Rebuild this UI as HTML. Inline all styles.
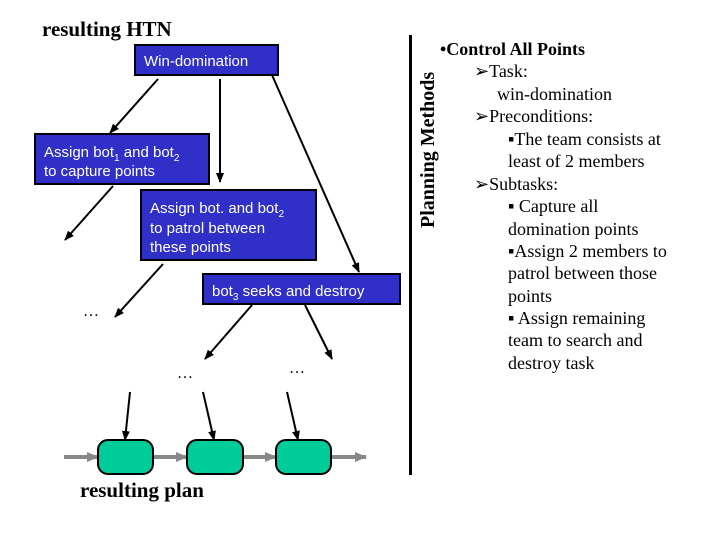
<!DOCTYPE html>
<html><head><meta charset="utf-8"><style>
html,body{margin:0;padding:0;background:#fff;width:720px;height:540px;overflow:hidden}
svg text{font-family:"Liberation Serif",serif}
.b{font-family:"Liberation Sans",sans-serif;fill:#fff;font-size:15px}
.r{font-size:18px;fill:#000}
</style></head><body>
<svg width="720" height="540" viewBox="0 0 720 540" xmlns="http://www.w3.org/2000/svg">
<defs>
<marker id="a" markerWidth="10" markerHeight="10" refX="9" refY="5" orient="auto" markerUnits="userSpaceOnUse"><path d="M0,1 L10,5 L0,9 Z" fill="#000"/></marker>
<marker id="g" markerWidth="12" markerHeight="12" refX="11" refY="6" orient="auto" markerUnits="userSpaceOnUse"><path d="M0,1 L12,6 L0,11 Z" fill="#888"/></marker>
</defs>
<text x="42" y="36" font-size="21" font-weight="bold">resulting HTN</text>
<g stroke="#000" stroke-width="2" fill="none" marker-end="url(#a)">
<line x1="158" y1="79" x2="110" y2="133"/>
<line x1="220" y1="79" x2="220" y2="182"/>
<line x1="272" y1="75" x2="359" y2="272"/>
<line x1="113" y1="186" x2="65" y2="240"/>
<line x1="163" y1="264" x2="115" y2="317"/>
<line x1="252" y1="305" x2="205" y2="359"/>
<line x1="305" y1="305" x2="332" y2="359"/>
<line x1="130" y1="392" x2="125" y2="440"/>
<line x1="203" y1="392" x2="214" y2="440"/>
<line x1="287" y1="392" x2="298" y2="440"/>
</g>
<g fill="#3030c8" stroke="#000" stroke-width="2">
<rect x="135" y="45" width="143" height="30"/>
<rect x="35" y="134" width="174" height="50"/>
<rect x="141" y="190" width="175" height="70"/>
<rect x="203" y="274" width="197" height="30"/>
</g>
<text class="b" x="144" y="66">Win-domination</text>
<text class="b" x="44" y="157">Assign bot<tspan font-size="10" dy="4">1</tspan><tspan dy="-4"> and bot</tspan><tspan font-size="10" dy="4">2</tspan></text>
<text class="b" x="44" y="176">to capture points</text>
<text class="b" x="150" y="213">Assign bot. and bot<tspan font-size="10" dy="4">2</tspan></text>
<text class="b" x="150" y="233">to patrol between</text>
<text class="b" x="150" y="252">these points</text>
<text class="b" x="212" y="296">bot<tspan font-size="10" dy="4">3</tspan><tspan dy="-4"> seeks and destroy</tspan></text>
<g font-size="16" fill="#000"><text x="83" y="316">…</text><text x="177" y="378">…</text><text x="289" y="373">…</text></g>
<g stroke="#888" stroke-width="4" marker-end="url(#g)">
<line x1="64" y1="457" x2="98" y2="457"/>
<line x1="153" y1="457" x2="187" y2="457"/>
<line x1="243" y1="457" x2="276" y2="457"/>
<line x1="331" y1="457" x2="366" y2="457"/>
</g>
<g fill="#00cc99" stroke="#000" stroke-width="2">
<rect x="98" y="440" width="55" height="34" rx="10"/>
<rect x="187" y="440" width="56" height="34" rx="10"/>
<rect x="276" y="440" width="55" height="34" rx="10"/>
</g>
<text x="80" y="497" font-size="21" font-weight="bold">resulting plan</text>
<rect x="409" y="35" width="3" height="440" fill="#000"/>
<text transform="translate(434,228) rotate(-90)" font-size="20" font-weight="bold">Planning Methods</text>
<text x="440" y="55" font-size="18" font-weight="bold">•Control All Points</text>
<g class="r">
<text class="r" x="474" y="77">➢Task:</text>
<text class="r" x="497" y="100">win-domination</text>
<text class="r" x="474" y="122">➢Preconditions:</text>
<text class="r" x="508" y="145">▪The team consists at</text>
<text class="r" x="508" y="167">least of 2 members</text>
<text class="r" x="474" y="190">➢Subtasks:</text>
<text class="r" x="508" y="212">▪ Capture all</text>
<text class="r" x="508" y="235">domination points</text>
<text class="r" x="508" y="257">▪Assign 2 members to</text>
<text class="r" x="508" y="279">patrol between those</text>
<text class="r" x="508" y="302">points</text>
<text class="r" x="508" y="324">▪ Assign remaining</text>
<text class="r" x="508" y="346">team to search and</text>
<text class="r" x="508" y="369">destroy task</text>
</g>
</svg>
</body></html>
